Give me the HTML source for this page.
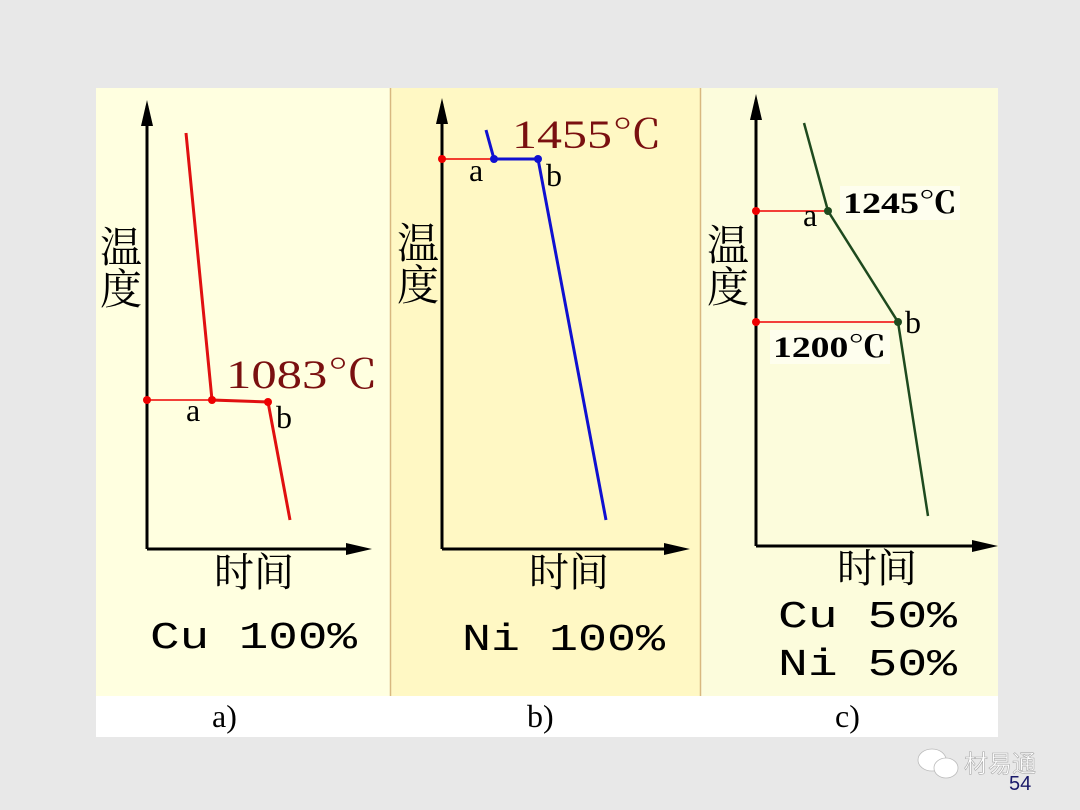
<!DOCTYPE html>
<html><head><meta charset="utf-8"><style>
html,body{margin:0;padding:0;background:#e8e8e8;}
svg{display:block}
text{font-family:"Liberation Serif","Noto Serif CJK SC",serif;}
.m{font-family:"Liberation Mono","Noto Sans CJK SC",monospace;}
.cj{font-family:"Noto Serif CJK SC","WenQuanYi Zen Hei",serif;}
</style></head><body>
<svg width="1080" height="810" viewBox="0 0 1080 810" xmlns="http://www.w3.org/2000/svg">
<rect width="1080" height="810" fill="#e8e8e8"/>
<rect x="96" y="88" width="902" height="649" fill="#fff"/>
<rect x="96" y="88" width="294" height="608" fill="#ffffe0"/>
<rect x="390" y="88" width="310" height="608" fill="#fff8c4"/>
<rect x="700" y="88" width="298" height="608" fill="#fcfcdc"/>
<line x1="390.5" y1="88" x2="390.5" y2="696" stroke="#d8b880" stroke-width="1.5"/>
<line x1="700.5" y1="88" x2="700.5" y2="696" stroke="#d8b880" stroke-width="1.5"/>

<!-- panel a -->
<path d="M147,549 V106" stroke="#000" stroke-width="3" fill="none"/>
<path d="M141,126 L147,100 L153,126 z" fill="#000"/>
<path d="M147,549 H362" stroke="#000" stroke-width="3" fill="none"/>
<path d="M346,543 L372,549 L346,555 z" fill="#000"/>
<line x1="147" y1="400" x2="212" y2="400" stroke="#e00" stroke-width="1.5"/>
<path d="M186,133 L212,400 L268,402 L290,520" stroke="#e01010" stroke-width="3" fill="none"/>
<circle cx="147" cy="400" r="4" fill="#e00"/><circle cx="212" cy="400" r="4" fill="#e00"/><circle cx="268" cy="402" r="4" fill="#e00"/>
<text x="186" y="421" font-size="32">a</text><text x="276" y="428" font-size="32">b</text>
<text x="226" y="388" font-size="40" fill="#7a1010" textLength="152" lengthAdjust="spacingAndGlyphs">1083℃</text>
<text class="cj" x="100" y="262" font-size="42">温</text><text class="cj" x="100" y="304" font-size="42">度</text>
<text class="cj" x="214" y="586" font-size="40">时间</text>
<text class="m" x="150" y="648" font-size="38" textLength="207" lengthAdjust="spacingAndGlyphs">Cu 100%</text>
<text x="212" y="727" font-size="32">a)</text>

<!-- panel b -->
<path d="M442,549 V104" stroke="#000" stroke-width="3" fill="none"/>
<path d="M436,124 L442,98 L448,124 z" fill="#000"/>
<path d="M442,549 H680" stroke="#000" stroke-width="3" fill="none"/>
<path d="M664,543 L690,549 L664,555 z" fill="#000"/>
<line x1="442" y1="159" x2="494" y2="159" stroke="#e00" stroke-width="1.5"/>
<path d="M486,130 L494,159 L538,159 L606,520" stroke="#1010d0" stroke-width="3" fill="none"/>
<circle cx="442" cy="159" r="4" fill="#e00"/><circle cx="494" cy="159" r="4" fill="#1010d0"/><circle cx="538" cy="159" r="4" fill="#1010d0"/>
<text x="469" y="181" font-size="32">a</text><text x="546" y="186" font-size="32">b</text>
<text x="512" y="148" font-size="40" fill="#7a1010" textLength="150" lengthAdjust="spacingAndGlyphs">1455℃</text>
<text class="cj" x="397" y="258" font-size="42">温</text><text class="cj" x="397" y="300" font-size="42">度</text>
<text class="cj" x="529" y="586" font-size="40">时间</text>
<text class="m" x="462" y="650" font-size="38" textLength="203" lengthAdjust="spacingAndGlyphs">Ni 100%</text>
<text x="527" y="727" font-size="32">b)</text>

<!-- panel c -->
<path d="M756,546 V100" stroke="#000" stroke-width="3" fill="none"/>
<path d="M750,120 L756,94 L762,120 z" fill="#000"/>
<path d="M756,546 H988" stroke="#000" stroke-width="3" fill="none"/>
<path d="M972,540 L998,546 L972,552 z" fill="#000"/>
<line x1="756" y1="211" x2="828" y2="211" stroke="#e00" stroke-width="1.5"/>
<line x1="756" y1="322" x2="898" y2="322" stroke="#e00" stroke-width="1.5"/>
<path d="M804,123 L828,211 L898,322 L928,516" stroke="#1e4a1e" stroke-width="2.5" fill="none"/>
<circle cx="756" cy="211" r="4" fill="#e00"/><circle cx="756" cy="322" r="4" fill="#e00"/>
<circle cx="828" cy="211" r="4" fill="#1e4a1e"/><circle cx="898" cy="322" r="4" fill="#1e4a1e"/>
<text x="803" y="226" font-size="32">a</text><text x="905" y="333" font-size="32">b</text>
<rect x="840" y="186" width="120" height="34" fill="#fff" opacity="0.5"/>
<rect x="770" y="330" width="120" height="34" fill="#fff" opacity="0.5"/>
<text x="843" y="213" font-size="30" font-weight="bold" textLength="114" lengthAdjust="spacingAndGlyphs">1245℃</text>
<text x="773" y="357" font-size="30" font-weight="bold" textLength="113" lengthAdjust="spacingAndGlyphs">1200℃</text>
<text class="cj" x="707" y="260" font-size="42">温</text><text class="cj" x="707" y="302" font-size="42">度</text>
<text class="cj" x="837" y="582" font-size="40">时间</text>
<text class="m" x="778" y="627" font-size="38" textLength="179" lengthAdjust="spacingAndGlyphs">Cu 50%</text>
<text class="m" x="778" y="675" font-size="38" textLength="179" lengthAdjust="spacingAndGlyphs">Ni 50%</text>
<text x="835" y="727" font-size="32">c)</text>

<!-- watermark -->
<g fill="#fff" stroke="#bbb" stroke-width="0.8">
<ellipse cx="932" cy="760" rx="14" ry="11"/><ellipse cx="946" cy="768" rx="12" ry="10"/>
</g>
<text x="964" y="772" font-size="24" fill="#fff" stroke="#aaa" stroke-width="0.6" style="font-family:'Noto Sans CJK SC',sans-serif">材易通</text>
<text x="1009" y="790" font-size="20" fill="#1a1a6a" style="font-family:'Liberation Sans',sans-serif">54</text>
</svg>
</body></html>
